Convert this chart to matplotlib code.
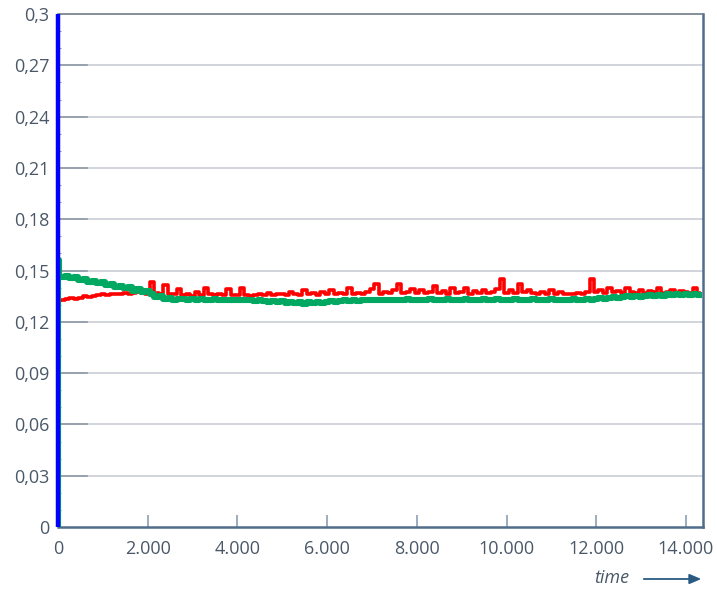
import numpy as np
import matplotlib.pyplot as plt
from matplotlib.patches import FancyArrowPatch
from matplotlib.ticker import MultipleLocator

# tiempo de muestreo: cada 100 unidades, 0 .. 14300
t = np.arange(0, 14400, 100)

red_v = [
    0.132, 0.133, 0.1335, 0.134, 0.1335, 0.134, 0.135, 0.1345, 0.135, 0.1355,
    0.136, 0.1355, 0.136, 0.1365, 0.136, 0.137, 0.1365, 0.137, 0.1375, 0.137,
    0.1365, 0.143, 0.137, 0.136, 0.1415, 0.1365, 0.136, 0.139, 0.1355, 0.136,
    0.135, 0.1375, 0.1355, 0.140, 0.136, 0.1355, 0.1365, 0.1355, 0.139, 0.1355,
    0.1355, 0.140, 0.1355, 0.135, 0.1355, 0.136, 0.1355, 0.137, 0.1355, 0.136,
    0.1365, 0.1355, 0.1375, 0.136, 0.1355, 0.1385, 0.136, 0.137, 0.1355, 0.1375,
    0.136, 0.1385, 0.1365, 0.137, 0.136, 0.1395, 0.1365, 0.137, 0.1365, 0.1375,
    0.139, 0.142, 0.1365, 0.1375, 0.137, 0.1385, 0.142, 0.137, 0.1375, 0.139,
    0.137, 0.1385, 0.137, 0.1375, 0.141, 0.137, 0.138, 0.1365, 0.1395, 0.137,
    0.1375, 0.140, 0.1365, 0.138, 0.137, 0.1385, 0.137, 0.1375, 0.139, 0.145,
    0.137, 0.1385, 0.137, 0.142, 0.1375, 0.1385, 0.137, 0.1365, 0.1375, 0.136,
    0.1385, 0.136, 0.1375, 0.136, 0.1365, 0.136, 0.137, 0.1365, 0.1375, 0.145,
    0.1375, 0.1385, 0.137, 0.1395, 0.1375, 0.138, 0.137, 0.1395, 0.1375, 0.137,
    0.1385, 0.137, 0.138, 0.1375, 0.1395, 0.137, 0.1375, 0.1385, 0.1365, 0.138,
    0.1375, 0.137, 0.1395, 0.137,
]

green_v = [
    0.147, 0.146, 0.1465, 0.1455, 0.146, 0.1445, 0.145, 0.1435, 0.144, 0.1425,
    0.143, 0.1415, 0.142, 0.1405, 0.141, 0.1395, 0.1405, 0.138, 0.139, 0.1375,
    0.138, 0.136, 0.1345, 0.135, 0.1335, 0.134, 0.133, 0.1335, 0.1335, 0.133,
    0.1335, 0.133, 0.1335, 0.133, 0.1325, 0.1335, 0.133, 0.1325, 0.133, 0.1325,
    0.133, 0.1325, 0.133, 0.1325, 0.132, 0.1325, 0.132, 0.1315, 0.132, 0.1315,
    0.132, 0.131, 0.1315, 0.131, 0.1315, 0.1305, 0.1315, 0.131, 0.1315, 0.131,
    0.1315, 0.132, 0.1315, 0.132, 0.1325, 0.132, 0.1325, 0.132, 0.1325, 0.133,
    0.1325, 0.133, 0.1325, 0.133, 0.1325, 0.133, 0.1325, 0.133, 0.1335, 0.133,
    0.133, 0.1325, 0.133, 0.1335, 0.133, 0.1325, 0.133, 0.1335, 0.133, 0.1325,
    0.133, 0.1335, 0.133, 0.1325, 0.133, 0.1335, 0.133, 0.133, 0.1335, 0.133,
    0.1325, 0.133, 0.1335, 0.133, 0.1325, 0.133, 0.1335, 0.133, 0.1325, 0.133,
    0.1335, 0.133, 0.1325, 0.133, 0.133, 0.1335, 0.133, 0.1325, 0.1335, 0.133,
    0.1335, 0.134, 0.1335, 0.134, 0.1345, 0.134, 0.1345, 0.135, 0.1345, 0.135,
    0.1345, 0.135, 0.1355, 0.135, 0.1355, 0.135, 0.136, 0.1355, 0.136, 0.1355,
    0.136, 0.1355, 0.136, 0.1355,
]

# arranque en t=0 (subida vertical)
green_start_t = [0, 0, 30]
green_start_v = [0.0, 0.156, 0.148]
red_start_t = [0]
red_start_v = [0.127]
blue_t = [0, 0]
blue_v = [0.0, 0.3]

yticks = [0, 0.03, 0.06, 0.09, 0.12, 0.15, 0.18, 0.21, 0.24, 0.27, 0.3]
ylabels = ["0", "0,03", "0,06", "0,09", "0,12", "0,15", "0,18", "0,21", "0,24", "0,27", "0,3"]
xticks = [0, 2000, 4000, 6000, 8000, 10000, 12000, 14000]
xlabels = ["0", "2.000", "4.000", "6.000", "8.000", "10.000", "12.000", "14.000"]

TXT = "#4a5868"
AX = "#4f6d8a"

plt.rcParams["font.family"] = ["Open Sans", "DejaVu Sans"]
fig = plt.figure(figsize=(7.17, 5.89), dpi=100)
ax = fig.add_axes([58/717, 62/589, 645/717, 513/589])

gx = list(green_start_t) + list(t)
gy = list(green_start_v) + list(green_v)
rx = list(red_start_t) + list(t)
ry = list(red_start_v) + list(red_v)

ax.plot(rx, ry, color="#ff0000", lw=2.6, zorder=3, drawstyle="steps-mid")
ax.plot(gx, gy, color="#00a862", lw=4.4, zorder=4, drawstyle="steps-mid")
ax.plot(blue_t, blue_v, color="#0000ff", lw=3.2, zorder=5,
        solid_capstyle="butt", clip_on=False)

ax.set_xlim(0, 14380)
ax.set_ylim(0, 0.3)
ax.set_yticks(yticks)
ax.set_yticklabels(ylabels)
ax.set_xticks(xticks)
ax.set_xticklabels(xlabels)
ax.yaxis.set_minor_locator(MultipleLocator(0.01))

for y in yticks[1:-1]:
    ax.axhline(y, color="#c9ced6", lw=1.2, zorder=1)
    ax.plot([0, 650], [y, y], color="#8d99a6", lw=1.2, zorder=1)

ax.tick_params(axis="y", which="major", direction="in", length=0, labelsize=13,
               labelcolor=TXT, pad=6)
ax.tick_params(axis="y", which="minor", direction="in", length=2.5, color="#8a98a8", width=0.8)
ax.tick_params(axis="x", which="major", direction="in", length=9, color="#8aa0b4",
               width=1.2, labelsize=13, labelcolor=TXT, pad=9)

ax.spines["left"].set_visible(False)
ax.spines["top"].set_color("#6e7b88")
ax.spines["top"].set_linewidth(1.2)
ax.spines["bottom"].set_color(AX)
ax.spines["bottom"].set_linewidth(1.8)
ax.spines["right"].set_color(AX)
ax.spines["right"].set_linewidth(1.8)

fig.text(629/717, 1 - 578/589, "time", style="italic", fontsize=13, color=TXT,
         ha="right", va="center")
fig.add_artist(FancyArrowPatch(
    (641/717, 1 - 579/589), (704/717, 1 - 579/589), transform=fig.transFigure,
    arrowstyle="-|>,head_length=7,head_width=3", color="#2a5a82", lw=1.3))

fig.savefig("out.png", dpi=100)
